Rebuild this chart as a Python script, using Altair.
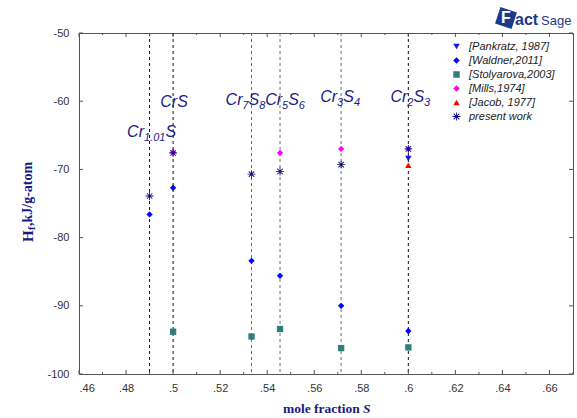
import altair as alt
import pandas as pd

# ---- measured enthalpies of formation (kJ per g-atom) vs mole fraction S ----
X_CR101S, X_CRS, X_CR7S8, X_CR5S6, X_CR3S4, X_CR2S3 = 0.49, 0.5, 8 / 15, 6 / 11, 4 / 7, 0.6

pankratz_x = [X_CR2S3]
pankratz_h = [-68.4]

waldner_x = [X_CR101S, X_CRS, X_CR7S8, X_CR5S6, X_CR3S4, X_CR2S3]
waldner_h = [-76.6, -72.7, -83.4, -85.6, -90.0, -93.7]

stolyarova_x = [X_CRS, X_CR7S8, X_CR5S6, X_CR3S4, X_CR2S3]
stolyarova_h = [-93.8, -94.5, -93.4, -96.2, -96.1]

mills_x = [X_CRS, X_CR5S6, X_CR3S4, X_CR2S3]
mills_h = [-67.5, -67.6, -67.0, -67.0]

jacob_x = [X_CR2S3]
jacob_h = [-69.4]

present_x = [X_CR101S, X_CRS, X_CR7S8, X_CR5S6, X_CR3S4, X_CR2S3]
present_h = [-73.9, -67.6, -70.7, -70.3, -69.3, -67.0]

source_names = ["[Pankratz, 1987]", "[Waldner,2011]", "[Stolyarova,2003]",
                "[Mills,1974]", "[Jacob, 1977]", "present work"]

# ---- phase compositions (dashed lines) and their formula labels ----
phase_x = [X_CR101S, X_CRS, X_CR7S8, X_CR5S6, X_CR3S4, X_CR2S3]
phase_line_color = ["#111111", "#111111", "#6e6e6e", "#6e6e6e", "#6e6e6e", "#111111"]
phase_label_h = [-64.5, -60.1, -59.8, -59.8, -59.4, -59.4]
phase_label_parts = [
    [("Cr", 0), ("1.01", 1), ("S", 0)],
    [("CrS", 0)],
    [("Cr", 0), ("7", 1), ("S", 0), ("8", 1)],
    [("Cr", 0), ("5", 1), ("S", 0), ("6", 1)],
    [("Cr", 0), ("3", 1), ("S", 0), ("4", 1)],
    [("Cr", 0), ("2", 1), ("S", 0), ("3", 1)],
]
label_nudge = [2, 1, -6, 5, -1, 2]

# ---- axis ticks ----
x_tick_labels = [0.46, 0.48, 0.50, 0.52, 0.54, 0.56, 0.58, 0.60, 0.62, 0.64, 0.66]
x_minor_ticks = [0.47, 0.49, 0.51, 0.53, 0.55, 0.57, 0.59, 0.61, 0.63, 0.65, 0.67]
y_tick_labels = [-50, -60, -70, -80, -90, -100]

# ---- layout / style ----
W, H = 494, 341
NAVY = "#1a1a86"
SANS = "Liberation Sans"
SERIF = "Liberation Serif"

# filled six-armed asterisk built from three thin bars
ASTERISK = ("M-1.25,-0.13H1.25V0.13H-1.25Z"
            "M-0.13,-1.25H0.13V1.25H-0.13Z"
            "M-0.77,-0.97L0.97,0.77L0.77,0.97L-0.97,-0.77Z"
            "M-0.77,0.97L-0.97,0.77L0.77,-0.97L0.97,-0.77Z")

xs = alt.Scale(domain=[0.46, 0.67], nice=False, zero=False)
ys = alt.Scale(domain=[-100, -50], nice=False, zero=False)

x_axis = alt.Axis(
    values=x_tick_labels, ticks=False, domain=False, grid=False, title=None,
    labelExpr="replace(format(datum.value, '.2~f'), '0.', '.')",
    labelFont=SANS, labelFontSize=11, labelColor="#333333", labelPadding=8)
y_axis = alt.Axis(
    values=y_tick_labels, ticks=False, domain=False, grid=False, title=None,
    labelExpr="toString(datum.value)",
    labelFont=SANS, labelFontSize=11, labelColor="#333333", labelPadding=10)


def X(field):
    return alt.X(field, scale=xs, axis=x_axis)


def Y(field):
    return alt.Y(field, scale=ys, axis=y_axis)


# point table, drawn so that the asterisks sit on top
series = [
    ("[Stolyarova,2003]", stolyarova_x, stolyarova_h),
    ("[Waldner,2011]", waldner_x, waldner_h),
    ("[Jacob, 1977]", jacob_x, jacob_h),
    ("[Pankratz, 1987]", pankratz_x, pankratz_h),
    ("[Mills,1974]", mills_x, mills_h),
    ("present work", present_x, present_h),
]
rows = []
for name, xv, hv in series:
    for a, b in zip(xv, hv):
        rows.append({"source": name, "x": a, "h": b})
pts_df = pd.DataFrame(rows)

legend = alt.Legend(title=None, orient="none", legendX=372, legendY=8)
points = alt.Chart(pts_df).mark_point(filled=True, opacity=1, size=40).encode(
    x=X("x:Q"),
    y=Y("h:Q"),
    color=alt.Color("source:N", scale=alt.Scale(
        domain=source_names,
        range=["#1010f0", "#0000ff", "#2f7d7d", "#ff00ff", "#ff0000", "#0a0a80"]),
        legend=legend),
    shape=alt.Shape("source:N", scale=alt.Scale(
        domain=source_names,
        range=["triangle-down", "diamond", "square", "diamond", "triangle-up", ASTERISK]),
        legend=legend),
)

lines_df = pd.DataFrame({"x": phase_x, "c": phase_line_color})
phase_lines = alt.Chart(lines_df).mark_rule(strokeDash=[3, 3], strokeWidth=1).encode(
    x=X("x:Q"),
    color=alt.Color("c:N", scale=None),
)


# inward tick marks on all four sides
def xticks(vals, length, top):
    y0 = 0 if top else H
    y1 = length if top else H - length
    return alt.Chart(pd.DataFrame({"t": vals})).mark_rule(color="#555555").encode(
        x=X("t:Q"), y=alt.value(y0), y2=alt.value(y1))


def yticks(vals, length, right):
    x0 = W if right else 0
    x1 = W - length if right else length
    return alt.Chart(pd.DataFrame({"t": vals})).mark_rule(color="#555555").encode(
        y=Y("t:Q"), x=alt.value(x0), x2=alt.value(x1))


tick_layers = [
    xticks(x_tick_labels, 4, False), xticks(x_minor_ticks, 2, False),
    xticks(x_tick_labels, 4, True), xticks(x_minor_ticks, 2, True),
    yticks(y_tick_labels, 4, False), yticks(y_tick_labels, 4, True),
]

# formula labels assembled from normal and subscript pieces
CHAR_W = {"C": 0.722, "r": 0.333, "S": 0.667, ".": 0.278}
MAIN_FS, SUB_FS = 16, 11


def text_width(s, fs):
    return sum(CHAR_W.get(ch, 0.556) for ch in s) * fs


label_layers = []
for px, ph, parts, nud in zip(phase_x, phase_label_h, phase_label_parts, label_nudge):
    widths = [text_width(t, SUB_FS if sub else MAIN_FS) for t, sub in parts]
    off = -sum(widths) / 2 + nud
    anchor = pd.DataFrame({"x": [px], "h": [ph]})
    for (t, sub), w in zip(parts, widths):
        label_layers.append(
            alt.Chart(anchor).mark_text(
                align="left", baseline="middle", font=SANS, fontStyle="italic",
                color=NAVY, fontSize=SUB_FS if sub else MAIN_FS,
                dx=off, dy=6 if sub else 0,
            ).encode(x=X("x:Q"), y=Y("h:Q"), text=alt.value(t))
        )
        off += w

one = pd.DataFrame({"k": [0]})


def free_text(txt, x, y, **kw):
    return alt.Chart(one).mark_text(**kw).encode(
        text=alt.value(txt), x=alt.value(x), y=alt.value(y))


# axis titles
ytitle_x, ytitle_y = -51, 209
ytitle = [
    free_text("H", ytitle_x, ytitle_y, angle=270, align="left", baseline="middle",
              font=SERIF, fontWeight="bold", fontSize=15, color=NAVY),
    free_text("f", ytitle_x + 4, ytitle_y - 12, angle=270, align="left", baseline="middle",
              font=SERIF, fontWeight="bold", fontSize=10, color=NAVY),
    free_text(",kJ/g-atom", ytitle_x, ytitle_y - 16, angle=270, align="left",
              baseline="middle", font=SERIF, fontWeight="bold", fontSize=14, color=NAVY),
]
xtitle = [
    free_text("mole fraction", 204, 376, align="left", baseline="middle",
              font=SERIF, fontWeight="bold", fontSize=13.5, color=NAVY),
    free_text("S", 284, 376, align="left", baseline="middle",
              font=SERIF, fontWeight="bold", fontStyle="italic", fontSize=13.5, color=NAVY),
]

# FactSage mark in the top-right corner
logo = [
    alt.Chart(one).mark_point(shape="square", filled=True, size=300, angle=18,
                              color="#1c3a8c", opacity=1).encode(
        x=alt.value(427), y=alt.value(-15)),
    free_text("F", 427, -15, align="center", baseline="middle", font=SANS,
              fontWeight="bold", fontSize=16, color="white"),
    free_text("act", 436, -8, align="left", baseline="alphabetic", font=SANS,
              fontWeight="bold", fontSize=16, color="#1c3a8c"),
    free_text("Sage", 462, -8, align="left", baseline="alphabetic", font=SANS,
              fontSize=13, color="#1c3a8c"),
]

chart = alt.layer(
    phase_lines, *tick_layers, points, *label_layers, *ytitle, *xtitle, *logo
).properties(
    width=W, height=H,
    autosize=alt.AutoSizeParams(type="none"),
    padding={"left": 79, "top": 33, "right": 4, "bottom": 44},
    background="white",
).configure_view(
    stroke="#555555", strokeWidth=1
).configure_legend(
    labelFont=SANS, labelFontStyle="italic", labelFontSize=11, labelColor="#222222",
    symbolSize=42, symbolStrokeWidth=0, rowPadding=2, labelOffset=7, padding=0,
)

chart.save("out.html", embed_options={"renderer": "svg", "actions": False})
